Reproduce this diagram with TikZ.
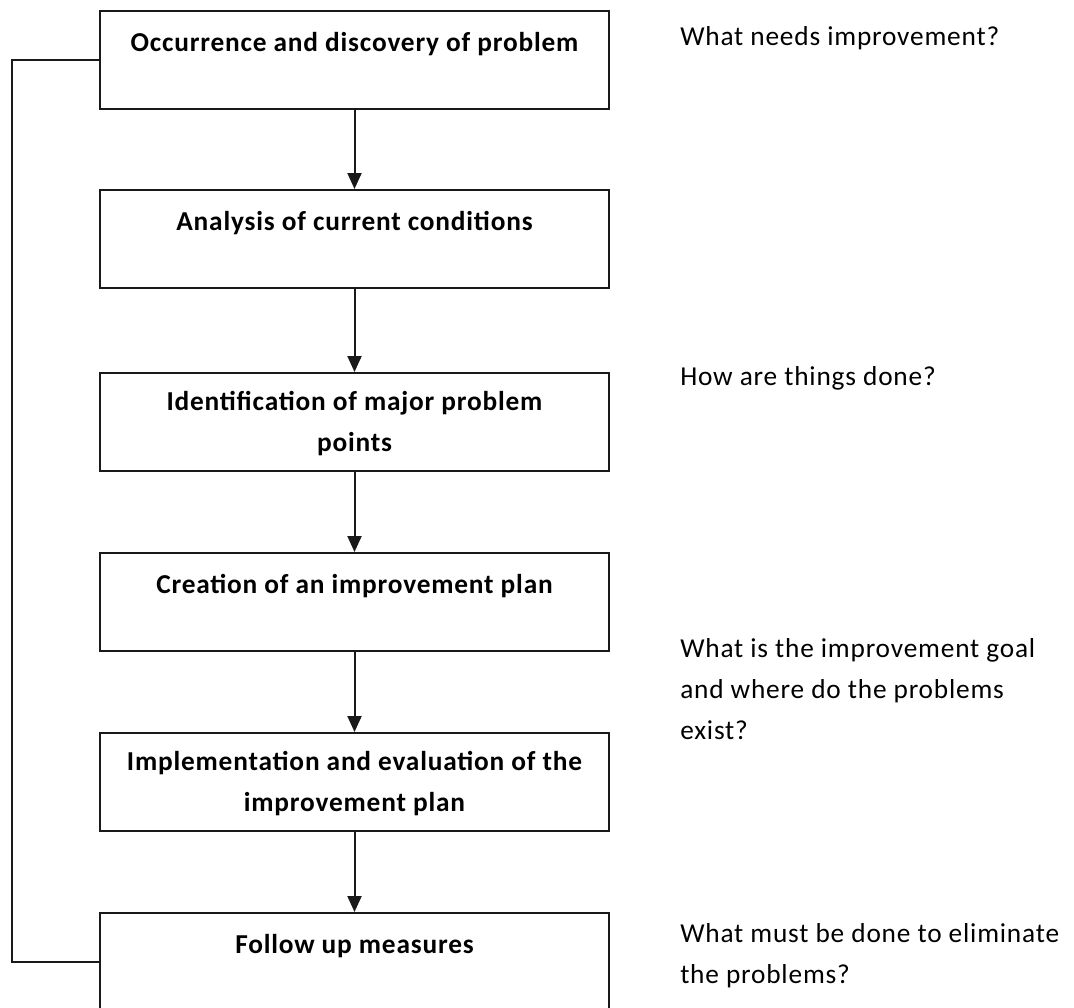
\documentclass[tikz,border=0pt]{standalone}
\usepackage{fontspec}
\setmainfont{Carlito}[LetterSpace=3]
\usetikzlibrary{arrows.meta,calc}
\begin{document}
\begin{tikzpicture}[x=0.75pt,y=-0.75pt,
  stepbox/.style={draw=black!90, line width=1.5pt, minimum width=381.75pt,
    minimum height=73.5pt, inner sep=0pt, anchor=north},
  steptext/.style={anchor=north, inner sep=0pt, align=center,
    font=\bfseries\fontsize{20.5}{30.75}\selectfont},
  note/.style={anchor=north west, inner sep=0pt, align=left,
    font=\fontsize{20.5}{30.75}\selectfont},
  flow/.style={line width=1.5pt, draw=black!90, -{Triangle[length=12pt,width=10.5pt]}},
  feedback/.style={line width=1.5pt, draw=black!90}]
\useasboundingbox (0,0) rectangle (1074,1007);

% process steps
\node[stepbox] (b1) at (354.5,10)  {};
\node[stepbox] (b2) at (354.5,189) {};
\node[stepbox] (b3) at (354.5,372) {};
\node[stepbox] (b4) at (354.5,552) {};
\node[stepbox] (b5) at (354.5,732) {};
\node[stepbox] (b6) at (354.5,912) {};

\node[steptext] (t1) at ($(b1.north)+(0,22)$) {Occurrence and discovery of problem};
\node[steptext] (t2) at ($(b2.north)+(0,22)$) {Analysis of current conditions};
\node[steptext] (t3) at ($(b3.north)+(0,19)$) {Identification of major problem\\points};
\node[steptext] (t4) at ($(b4.north)+(0,22)$) {Creation of an improvement plan};
\node[steptext] (t5) at ($(b5.north)+(0,19)$) {Implementation and evaluation of the\\improvement plan};
\node[steptext] (t6) at ($(b6.north)+(0,22)$) {Follow up measures};

% flow between steps
\draw[flow] (b1.south) -- (b2.north);
\draw[flow] (b2.south) -- (b3.north);
\draw[flow] (b3.south) -- (b4.north);
\draw[flow] (b4.south) -- (b5.north);
\draw[flow] (b5.south) -- (b6.north);

% feedback loop on the left
\coordinate (lp) at (12,0);
\draw[feedback] (b1.west) -- (b1.west -| lp) -- (b6.west -| lp) -- (b6.west);

% guiding questions
\node[note] (q1) at (680,26)  {What needs improvement?};
\node[note] (q2) at (680,366) {How are things done?};
\node[note] (q3) at (680,638) {What is the improvement goal\\and where do the problems\\exist?};
\node[note] (q4) at (680,923) {What must be done to eliminate\\the problems?};
\end{tikzpicture}
\end{document}
